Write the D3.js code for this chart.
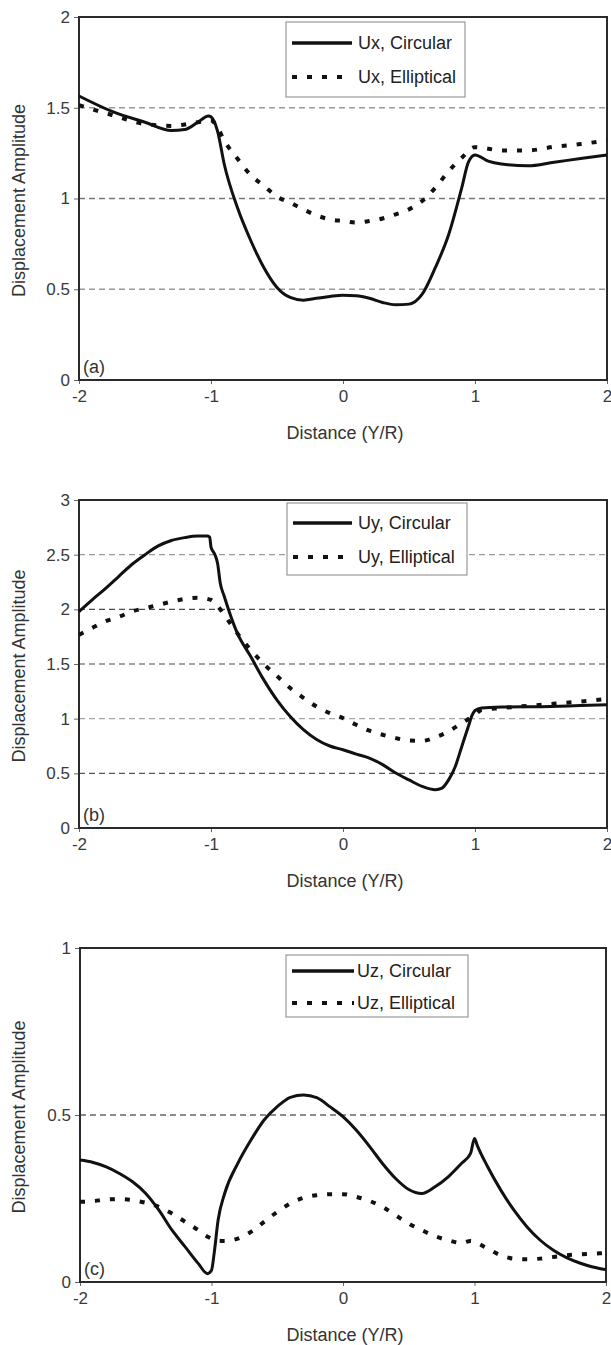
<!DOCTYPE html>
<html>
<head>
<meta charset="utf-8">
<script src="https://cdn.jsdelivr.net/npm/d3@7"></script>
<style>
  body { margin: 0; background: #fff; }
  text { font-family: "Liberation Sans", Arial, sans-serif; }
</style>
</head>
<body>
<svg id="chart" width="611" height="1345"></svg>
<script>
// values, [Y/R, amplitude]
const uxCircular = [[-2,1.565],[-1.75,1.48],[-1.5,1.42],[-1.3,1.375],[-1.2,1.38],[-1.1,1.42],[-1.02,1.455],[-1,1.45],[-0.95,1.37],[-0.9,1.19],[-0.8,0.95],[-0.7,0.77],[-0.6,0.62],[-0.5,0.51],[-0.4,0.455],[-0.3,0.44],[-0.2,0.45],[-0.1,0.46],[0,0.467],[0.1,0.464],[0.2,0.45],[0.3,0.427],[0.4,0.414],[0.5,0.418],[0.6,0.473],[0.7,0.62],[0.8,0.8],[0.9,1.06],[0.95,1.2],[1,1.24],[1.1,1.206],[1.2,1.19],[1.4,1.18],[1.6,1.2],[1.8,1.22],[2,1.24]];
const uxElliptical = [[-2,1.514],[-1.75,1.46],[-1.5,1.41],[-1.3,1.4],[-1.1,1.42],[-1,1.43],[-0.95,1.39],[-0.9,1.32],[-0.8,1.22],[-0.7,1.13],[-0.6,1.07],[-0.5,1.01],[-0.4,0.977],[-0.3,0.94],[-0.2,0.907],[-0.1,0.885],[0,0.876],[0.1,0.867],[0.2,0.876],[0.3,0.89],[0.4,0.913],[0.5,0.94],[0.6,0.986],[0.7,1.06],[0.8,1.15],[0.9,1.225],[1,1.283],[1.05,1.28],[1.2,1.265],[1.4,1.265],[1.6,1.285],[1.8,1.3],[2,1.32]];

const uyCircular = [[-2,1.98],[-1.9,2.087],[-1.8,2.19],[-1.7,2.3],[-1.6,2.41],[-1.5,2.5],[-1.4,2.58],[-1.3,2.63],[-1.2,2.656],[-1.1,2.67],[-1.03,2.67],[-1.01,2.66],[-1,2.57],[-0.97,2.5],[-0.95,2.42],[-0.93,2.24],[-0.9,2.12],[-0.8,1.78],[-0.7,1.57],[-0.6,1.355],[-0.5,1.17],[-0.4,1.02],[-0.3,0.9],[-0.2,0.81],[-0.1,0.75],[0,0.716],[0.1,0.676],[0.2,0.64],[0.3,0.58],[0.4,0.503],[0.5,0.44],[0.6,0.38],[0.7,0.35],[0.75,0.365],[0.8,0.44],[0.85,0.56],[0.9,0.746],[0.95,0.93],[0.98,1.036],[1,1.075],[1.05,1.097],[1.2,1.106],[1.5,1.11],[1.8,1.12],[2,1.127]];
const uyElliptical = [[-2,1.767],[-1.9,1.83],[-1.8,1.89],[-1.7,1.93],[-1.6,1.98],[-1.5,2.01],[-1.4,2.04],[-1.3,2.07],[-1.2,2.095],[-1.1,2.105],[-1,2.087],[-0.95,2.03],[-0.9,1.95],[-0.8,1.78],[-0.7,1.63],[-0.6,1.5],[-0.5,1.39],[-0.4,1.28],[-0.3,1.19],[-0.2,1.11],[-0.1,1.05],[0,1.005],[0.1,0.944],[0.2,0.89],[0.3,0.853],[0.4,0.822],[0.5,0.8],[0.6,0.797],[0.7,0.83],[0.8,0.883],[0.9,0.96],[1,1.036],[1.05,1.08],[1.2,1.097],[1.5,1.127],[1.8,1.157],[2,1.18]];

const uzCircular = [[-2,0.365],[-1.9,0.358],[-1.8,0.345],[-1.7,0.325],[-1.6,0.3],[-1.5,0.265],[-1.4,0.215],[-1.3,0.155],[-1.2,0.105],[-1.1,0.055],[-1.03,0.025],[-1,0.035],[-0.98,0.085],[-0.95,0.185],[-0.9,0.265],[-0.8,0.355],[-0.7,0.425],[-0.6,0.485],[-0.5,0.525],[-0.4,0.553],[-0.3,0.56],[-0.2,0.552],[-0.1,0.525],[0,0.495],[0.1,0.455],[0.2,0.407],[0.3,0.355],[0.4,0.31],[0.5,0.277],[0.6,0.265],[0.7,0.285],[0.8,0.315],[0.9,0.355],[0.97,0.385],[1,0.43],[1.02,0.41],[1.1,0.345],[1.2,0.275],[1.3,0.215],[1.4,0.165],[1.5,0.125],[1.6,0.095],[1.7,0.073],[1.8,0.057],[1.9,0.045],[2,0.037]];
const uzElliptical = [[-2,0.24],[-1.9,0.242],[-1.8,0.247],[-1.7,0.248],[-1.6,0.245],[-1.5,0.237],[-1.4,0.225],[-1.3,0.205],[-1.2,0.18],[-1.1,0.155],[-1.05,0.14],[-1,0.13],[-0.97,0.125],[-0.9,0.123],[-0.8,0.13],[-0.7,0.15],[-0.6,0.18],[-0.5,0.21],[-0.4,0.235],[-0.3,0.252],[-0.2,0.26],[-0.1,0.263],[0,0.263],[0.1,0.255],[0.2,0.243],[0.3,0.225],[0.4,0.2],[0.5,0.175],[0.6,0.155],[0.7,0.137],[0.8,0.125],[0.9,0.117],[0.97,0.123],[1,0.12],[1.1,0.1],[1.2,0.08],[1.3,0.07],[1.4,0.068],[1.5,0.07],[1.6,0.075],[1.7,0.08],[1.8,0.083],[1.9,0.085],[2,0.087]];

const xTicks = [-2, -1, 0, 1, 2];
const yTicksA = [0, 0.5, 1, 1.5, 2];
const yTicksB = [0, 0.5, 1, 1.5, 2, 2.5, 3];
const yTicksC = [0, 0.5, 1];
const legendA = ["Ux, Circular", "Ux, Elliptical"];
const legendB = ["Uy, Circular", "Uy, Elliptical"];
const legendC = ["Uz, Circular", "Uz, Elliptical"];
const panelLabels = ["(a)", "(b)", "(c)"];

const xTitle = "Distance (Y/R)";
const yTitle = "Displacement Amplitude";

// layout of the three stacked panels (grid = shade of each inner dashed line, scan looks uneven)
const panels = [
  { top: 17, bottom: 380, left: 79, right: 607, yTicks: yTicksA, circ: uxCircular, ell: uxElliptical, names: legendA,
    grid: ["#999", "#777", "#9a9a9a"],
    legend: { x: 286, y: 22, w: 179, h: 75, row1: 21, row2: 55, lineEnd: 66, textX: 72 } },
  { top: 500, bottom: 828, left: 79, right: 607, yTicks: yTicksB, circ: uyCircular, ell: uyElliptical, names: legendB,
    grid: ["#555", "#a5a5a5", "#888", "#4a4a4a", "#999"],
    legend: { x: 287, y: 503, w: 180, h: 72, row1: 20, row2: 54, lineEnd: 65, textX: 71 } },
  { top: 948, bottom: 1282, left: 80, right: 606, yTicks: yTicksC, circ: uzCircular, ell: uzElliptical, names: legendC,
    grid: ["#666"],
    legend: { x: 286, y: 955, w: 182, h: 62, row1: 16, row2: 48, lineEnd: 68, textX: 71 } }
];

const svg = d3.select("#chart");
const dotDash = "5,10";
const plain = d => String(d);   // keeps the ASCII hyphen on negative ticks

panels.forEach((p, i) => {
  const x = d3.scaleLinear().domain([-2, 2]).range([p.left, p.right]);
  const y = d3.scaleLinear().domain([0, d3.max(p.yTicks)]).range([p.bottom, p.top]);
  const g = svg.append("g");

  // dashed grid lines
  g.selectAll(".grid")
    .data(p.yTicks.slice(1, -1))
    .enter().append("line")
    .attr("x1", p.left).attr("x2", p.right)
    .attr("y1", d => y(d)).attr("y2", d => y(d))
    .attr("stroke", (d, k) => p.grid[k])
    .attr("stroke-width", 1.3)
    .attr("stroke-dasharray", "6,4");

  const xAxis = g.append("g")
    .attr("transform", `translate(0,${p.bottom})`)
    .call(d3.axisBottom(x).tickValues(xTicks).tickSize(4).tickPadding(6).tickFormat(plain));
  xAxis.select(".domain").remove();

  const yAxis = g.append("g")
    .attr("transform", `translate(${p.left},0)`)
    .call(d3.axisLeft(y).tickValues(p.yTicks).tickSize(5).tickPadding(4).tickFormat(plain));
  yAxis.select(".domain").remove();

  g.selectAll(".tick line").attr("stroke", "#666");
  g.selectAll(".tick text").attr("fill", "#3a3a3a").style("font-size", "17px");

  // frame
  g.append("rect")
    .attr("x", p.left).attr("y", p.top)
    .attr("width", p.right - p.left).attr("height", p.bottom - p.top)
    .attr("fill", "none").attr("stroke", "#2a2a2a").attr("stroke-width", 2);

  const line = d3.line()
    .x(d => x(d[0]))
    .y(d => y(d[1]))
    .curve(d3.curveMonotoneX);

  g.append("path")
    .datum(p.ell)
    .attr("d", line)
    .attr("fill", "none")
    .attr("stroke", "#111")
    .attr("stroke-width", 4)
    .attr("stroke-dasharray", dotDash);

  g.append("path")
    .datum(p.circ)
    .attr("d", line)
    .attr("fill", "none")
    .attr("stroke", "#111")
    .attr("stroke-width", 3)
    .attr("stroke-linejoin", "round");

  // legend
  const L = p.legend;
  const lg = g.append("g").attr("transform", `translate(${L.x},${L.y})`);
  lg.append("rect")
    .attr("width", L.w).attr("height", L.h)
    .attr("fill", "#fff").attr("stroke", "#999").attr("stroke-width", 1.2);
  [L.row1, L.row2].forEach((ry, k) => {
    lg.append("line")
      .attr("x1", 6).attr("x2", L.lineEnd)
      .attr("y1", ry).attr("y2", ry)
      .attr("stroke", "#111")
      .attr("stroke-width", k === 0 ? 3.5 : 4)
      .attr("stroke-dasharray", k === 0 ? null : dotDash);
    lg.append("text")
      .attr("x", L.textX).attr("y", ry)
      .attr("dy", "0.35em")
      .attr("fill", "#222")
      .style("font-size", "18px")
      .text(p.names[k]);
  });

  g.append("text")
    .attr("x", p.left + 4).attr("y", p.bottom - 13)
    .attr("dy", "0.35em")
    .attr("fill", "#333")
    .style("font-size", "18px")
    .text(panelLabels[i]);

  g.append("text")
    .attr("x", (p.left + p.right) / 2 + 2)
    .attr("y", p.bottom + 53)
    .attr("dy", "0.35em")
    .attr("text-anchor", "middle")
    .attr("fill", "#333")
    .style("font-size", "18px")
    .text(xTitle);

  g.append("text")
    .attr("transform", `translate(19,${(p.top + p.bottom) / 2 + 2}) rotate(-90)`)
    .attr("dy", "0.35em")
    .attr("text-anchor", "middle")
    .attr("fill", "#333")
    .style("font-size", "18px")
    .text(yTitle);
});
</script>
</body>
</html>
